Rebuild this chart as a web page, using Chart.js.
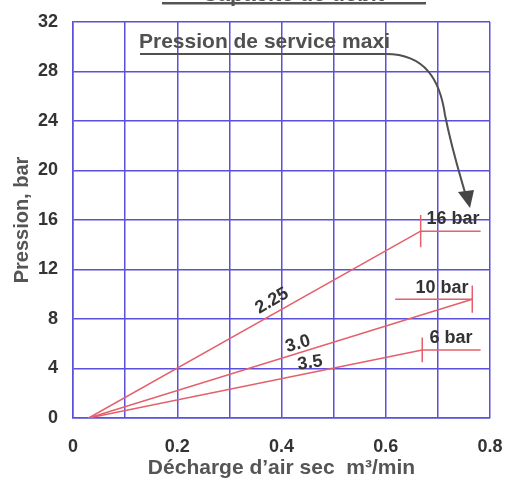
<!DOCTYPE html>
<html>
<head>
<meta charset="utf-8">
<script src="https://cdn.jsdelivr.net/npm/chart.js@4"></script>
<style>
html,body{margin:0;padding:0;background:#fff;}
#wrap{width:505px;height:485px;position:relative;}
</style>
</head>
<body>
<div id="wrap"><canvas id="c" width="505" height="485"></canvas></div>
<script>
// ---- data ----
const xTicks = [0, 0.2, 0.4, 0.6, 0.8];
const yTicks = [0, 4, 8, 12, 16, 20, 24, 28, 32];
const seriesNames = ['2.25', '3.0', '3.5'];
const ratingLabels = ['16 bar', '10 bar', '6 bar'];
const lineStartX = [0.03, 0.03, 0.03];
const lineStartY = [0, 0, 0];
const lineEndX = [0.667, 0.766, 0.670];
const lineEndY = [15.1, 9.6, 5.5];
const markerFromX = [0.667, 0.618, 0.670];
const markerToX = [0.782, 0.766, 0.782];
const tickHalf = [1.3, 1.1, 1.0];

const GRID = '#5b50dc';
const RED = '#e4606a';
const TXT = '#333333';
const AX = '#555555';
const FF = '"Liberation Sans", Arial, sans-serif';

const datasets = [];
for (let i = 0; i < seriesNames.length; i++) {
  datasets.push({label: seriesNames[i], data: [{x: lineStartX[i], y: lineStartY[i]}, {x: lineEndX[i], y: lineEndY[i]}]});
  datasets.push({label: ratingLabels[i], data: [{x: markerFromX[i], y: lineEndY[i]}, {x: markerToX[i], y: lineEndY[i]}]});
  datasets.push({label: ratingLabels[i] + ' tick', data: [{x: lineEndX[i], y: lineEndY[i] + tickHalf[i]}, {x: lineEndX[i], y: lineEndY[i] - tickHalf[i]}]});
}
datasets.forEach(d => { d.showLine = true; d.borderColor = RED; d.borderWidth = 1.5; d.pointRadius = 0; d.fill = false; });

const annot = {
  id: 'annot',
  afterDraw(chart) {
    const ctx = chart.ctx;
    const xs = chart.scales.x, ys = chart.scales.y;
    const px = v => xs.getPixelForValue(v), py = v => ys.getPixelForValue(v);
    ctx.save();
    // title (partially cut)
    ctx.fillStyle = AX;
    ctx.font = 'bold 22px ' + FF;
    ctx.textAlign = 'center'; ctx.textBaseline = 'alphabetic';
    ctx.fillText('Capacité de débit', 293, 1);
    ctx.fillRect(162, 2, 264, 2.5);
    // Pression de service maxi
    ctx.fillStyle = '#505050';
    ctx.font = 'bold 21px ' + FF;
    ctx.textAlign = 'left';
    ctx.fillText('Pression de service maxi', 139, 48);
    ctx.strokeStyle = '#505050'; ctx.lineWidth = 2;
    ctx.beginPath();
    ctx.moveTo(140, 54); ctx.lineTo(386, 54);
    ctx.bezierCurveTo(425, 54, 440, 80, 445, 115);
    ctx.bezierCurveTo(452, 150, 460, 175, 466, 196);
    ctx.stroke();
    // arrowhead
    ctx.fillStyle = '#454545';
    ctx.beginPath();
    ctx.moveTo(470, 208); ctx.lineTo(458, 192); ctx.lineTo(474, 190); ctx.closePath(); ctx.fill();
    // series labels
    ctx.fillStyle = TXT;
    ctx.font = 'bold 18px ' + FF;
    ctx.textAlign = 'center'; ctx.textBaseline = 'middle';
    const rot = (t, x, y, a) => { ctx.save(); ctx.translate(x, y); ctx.rotate(a * Math.PI / 180); ctx.fillText(t, 0, 0); ctx.restore(); };
    rot(seriesNames[0], 272, 301, -30);
    rot(seriesNames[1], 298, 344, -16);
    rot(seriesNames[2], 310, 363, -8);
    // rating labels
    ctx.fillText(ratingLabels[0], 453, py(lineEndY[0]) - 12);
    ctx.fillText(ratingLabels[1], 442, py(lineEndY[1]) - 11);
    ctx.fillText(ratingLabels[2], 451, py(lineEndY[2]) - 12);
    ctx.restore();
  }
};

new Chart(document.getElementById('c'), {
  type: 'scatter',
  data: {datasets},
  plugins: [annot],
  options: {
    responsive: false,
    animation: false,
    devicePixelRatio: 1,
    layout: {padding: {top: 22, right: 0, left: 0, bottom: 0}},
    plugins: {legend: {display: false}, tooltip: {enabled: false}},
    scales: {
      x: {
        type: 'linear', min: 0, max: 0.8,
        afterFit(s) { s.height = 67; s.paddingRight = 15; },
        afterBuildTicks(s) { const t = []; for (let i = 0; i <= 8; i++) t.push({value: i / 10}); s.ticks = t; },
        grid: {color: GRID, lineWidth: 1.5, drawTicks: false},
        border: {color: GRID, width: 1.5},
        ticks: {
          padding: 18, color: TXT, maxRotation: 0, autoSkip: false,
          font: {family: FF, size: 18, weight: 'bold'},
          callback: v => { const m = xTicks.find(t => Math.abs(t - v) < 1e-6); return m === undefined ? '' : (m === 0 ? '0' : m.toFixed(1)); }
        },
        title: {display: true, text: 'Décharge d\u2019air sec  m\u00B3/min', color: AX, padding: {top: 0, bottom: 4},
          font: {family: FF, size: 21, weight: 'bold'}}
      },
      y: {
        type: 'linear', min: 0, max: 32,
        afterFit(s) { s.width = 73; s.paddingTop = 0; s.paddingBottom = 0; },
        afterBuildTicks(s) { s.ticks = yTicks.map(v => ({value: v})); },
        grid: {color: GRID, lineWidth: 1.5, drawTicks: false},
        border: {color: GRID, width: 1.5},
        ticks: {padding: 15, color: TXT, font: {family: FF, size: 18, weight: 'bold'}},
        title: {display: true, text: 'Pression, bar', color: AX, padding: {top: 10, bottom: 0},
          font: {family: FF, size: 20, weight: 'bold'}}
      }
    }
  }
});
</script>
</body>
</html>
